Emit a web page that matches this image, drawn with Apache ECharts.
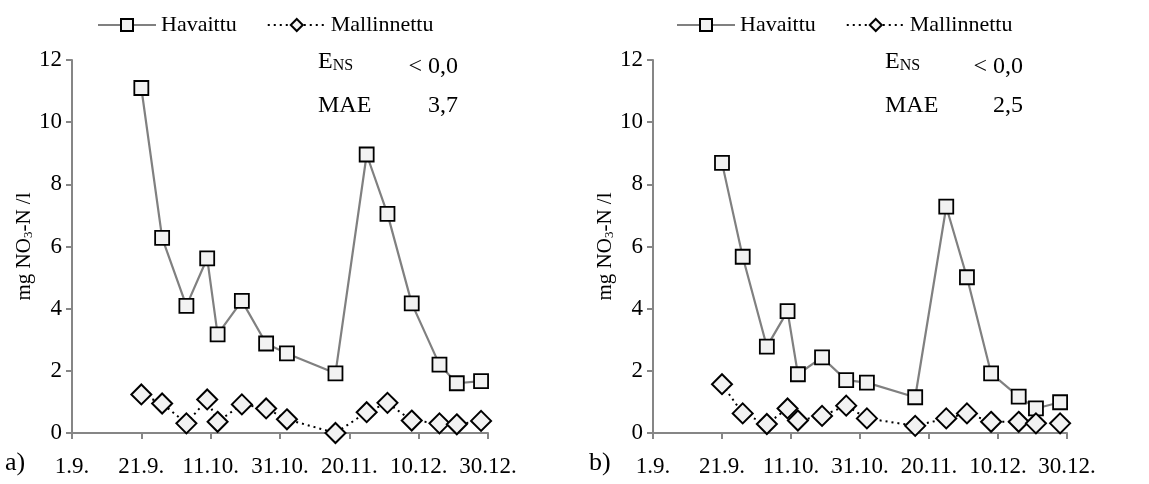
<!DOCTYPE html>
<html>
<head>
<meta charset="utf-8">
<script src="https://cdn.jsdelivr.net/npm/echarts@6/dist/echarts.min.js"></script>
<style>
  html, body { margin: 0; padding: 0; background: #fff; }
  #chart { width: 1149px; height: 484px; }
</style>
</head>
<body>
<div id="chart"></div>
<script>
// Sampling dates (day.month.) during autumn
const sampleDates = ['21.9.', '27.9.', '4.10.', '10.10.', '13.10.', '20.10.', '27.10.', '2.11.',
  '16.11.', '25.11.', '1.12.', '8.12.', '16.12.', '21.12.', '28.12.'];

// Panel a) nitrate concentration, mg NO3-N /l
const observedA = [11.1, 6.28, 4.09, 5.62, 3.17, 4.25, 2.88, 2.56, 1.92, 8.96, 7.05, 4.17, 2.2, 1.6, 1.67];
const modelledA = [1.24, 0.95, 0.31, 1.08, 0.36, 0.92, 0.79, 0.44, 0.0, 0.67, 0.97, 0.40, 0.31, 0.28, 0.39];

// Panel b)
const observedB = [8.69, 5.67, 2.78, 3.92, 1.89, 2.43, 1.70, 1.62, 1.15, 7.28, 5.01, 1.92, 1.17, 0.79, 0.99];
const modelledB = [1.57, 0.63, 0.29, 0.79, 0.40, 0.55, 0.88, 0.47, 0.23, 0.47, 0.63, 0.36, 0.36, 0.31, 0.31];

// x-axis tick labels, every 20 days from 1.9.
const xTickLabels = ['1.9.', '21.9.', '11.10.', '31.10.', '20.11.', '10.12.', '30.12.'];
const xTickStep = 20;

// Goodness-of-fit statistics per panel
const statsA = { ens: '< 0,0', mae: '3,7' };
const statsB = { ens: '< 0,0', mae: '2,5' };

const seriesNames = ['Havaittu', 'Mallinnettu'];
const panelLetters = ['a)', 'b)'];

// Day number counted from 1 September
function dayOffset(label) {
  const p = label.split('.');
  const d = parseInt(p[0], 10), m = parseInt(p[1], 10);
  return Math.round((Date.UTC(2010, m - 1, d) - Date.UTC(2010, 8, 1)) / 86400000);
}
const days = sampleDates.map(dayOffset);
const pairs = vals => days.map((d, i) => [d, vals[i]]);

const FONT = '"Liberation Serif", "Times New Roman", serif';
const AXIS_GREY = '#868686';

const grids = [
  { left: 72, width: 416, top: 60, height: 373 },
  { left: 653, width: 414, top: 60, height: 373 }
];

function xAxis(idx) {
  return {
    type: 'value', gridIndex: idx, min: 0, max: 120, interval: xTickStep,
    axisLine: { lineStyle: { color: AXIS_GREY, width: 2 } },
    axisTick: { inside: false, length: 6, lineStyle: { color: AXIS_GREY, width: 2 } },
    splitLine: { show: false },
    axisLabel: {
      color: '#000', fontFamily: FONT, fontSize: 23, margin: 22,
      formatter: v => xTickLabels[Math.round(v / xTickStep)]
    }
  };
}

function yAxis(idx) {
  return {
    type: 'value', gridIndex: idx, min: 0, max: 12, interval: 2,
    name: '{t|mg NO}{s|3}{t|-N /l}',
    nameLocation: 'middle', nameRotate: 90, nameGap: 34,
    nameTextStyle: {
      rich: {
        t: { fontFamily: FONT, fontSize: 21, color: '#000' },
        s: { fontFamily: FONT, fontSize: 13, color: '#000', padding: [9, 0, 0, 0] }
      }
    },
    axisLine: { show: true, lineStyle: { color: AXIS_GREY, width: 2 } },
    axisTick: { show: true, length: 6, lineStyle: { color: AXIS_GREY, width: 2 } },
    splitLine: { show: false },
    axisLabel: { color: '#000', fontFamily: FONT, fontSize: 23, margin: 10 }
  };
}

function observedSeries(idx, vals) {
  return {
    name: seriesNames[0], type: 'line', xAxisIndex: idx, yAxisIndex: idx,
    data: pairs(vals),
    symbol: 'rect', symbolSize: 14,
    lineStyle: { color: '#808080', width: 2.2 },
    itemStyle: { color: '#f2f2f2', borderColor: '#000', borderWidth: 1.8 },
    z: 2
  };
}

function modelledSeries(idx, vals) {
  return {
    name: seriesNames[1], type: 'line', xAxisIndex: idx, yAxisIndex: idx,
    data: pairs(vals),
    symbol: 'diamond', symbolSize: 20,
    lineStyle: { color: '#000', width: 2, type: [2, 4] },
    itemStyle: { color: '#f2f2f2', borderColor: '#000', borderWidth: 2 },
    z: 3
  };
}

function legend(left) {
  return {
    left: left, top: 9, itemWidth: 58, itemHeight: 15, itemGap: 30,
    data: seriesNames,
    textStyle: { fontFamily: FONT, fontSize: 22, color: '#000' },
    selectedMode: false
  };
}

function statsText(x, xr, st) {
  return [
    { type: 'text', left: x, top: 50, style: {
        text: '{e|E}{s|NS}',
        rich: {
          e: { fontFamily: FONT, fontSize: 24, fill: '#000' },
          s: { fontFamily: FONT, fontSize: 16, fill: '#000', padding: [8, 0, 0, 0] }
        } } },
    { type: 'text', right: 1149 - xr, top: 55, style: { text: st.ens, font: '24px ' + FONT, fill: '#000' } },
    { type: 'text', left: x, top: 94, style: { text: 'MAE', font: '24px ' + FONT, fill: '#000' } },
    { type: 'text', right: 1149 - xr, top: 94, style: { text: st.mae, font: '24px ' + FONT, fill: '#000' } }
  ];
}

const chart = echarts.init(document.getElementById('chart'), null, { renderer: 'canvas' });
chart.setOption({
  animation: false,
  backgroundColor: '#fff',
  grid: grids,
  xAxis: [xAxis(0), xAxis(1)],
  yAxis: [yAxis(0), yAxis(1)],
  legend: [legend(92), legend(671)],
  series: [
    observedSeries(0, observedA), modelledSeries(0, modelledA),
    observedSeries(1, observedB), modelledSeries(1, modelledB)
  ],
  graphic: [
    ...statsText(318, 458, statsA),
    ...statsText(885, 1023, statsB),
    { type: 'text', left: 5, top: 450, style: { text: panelLetters[0], font: '26px ' + FONT, fill: '#000' } },
    { type: 'text', left: 589, top: 450, style: { text: panelLetters[1], font: '26px ' + FONT, fill: '#000' } }
  ]
});
</script>
</body>
</html>
